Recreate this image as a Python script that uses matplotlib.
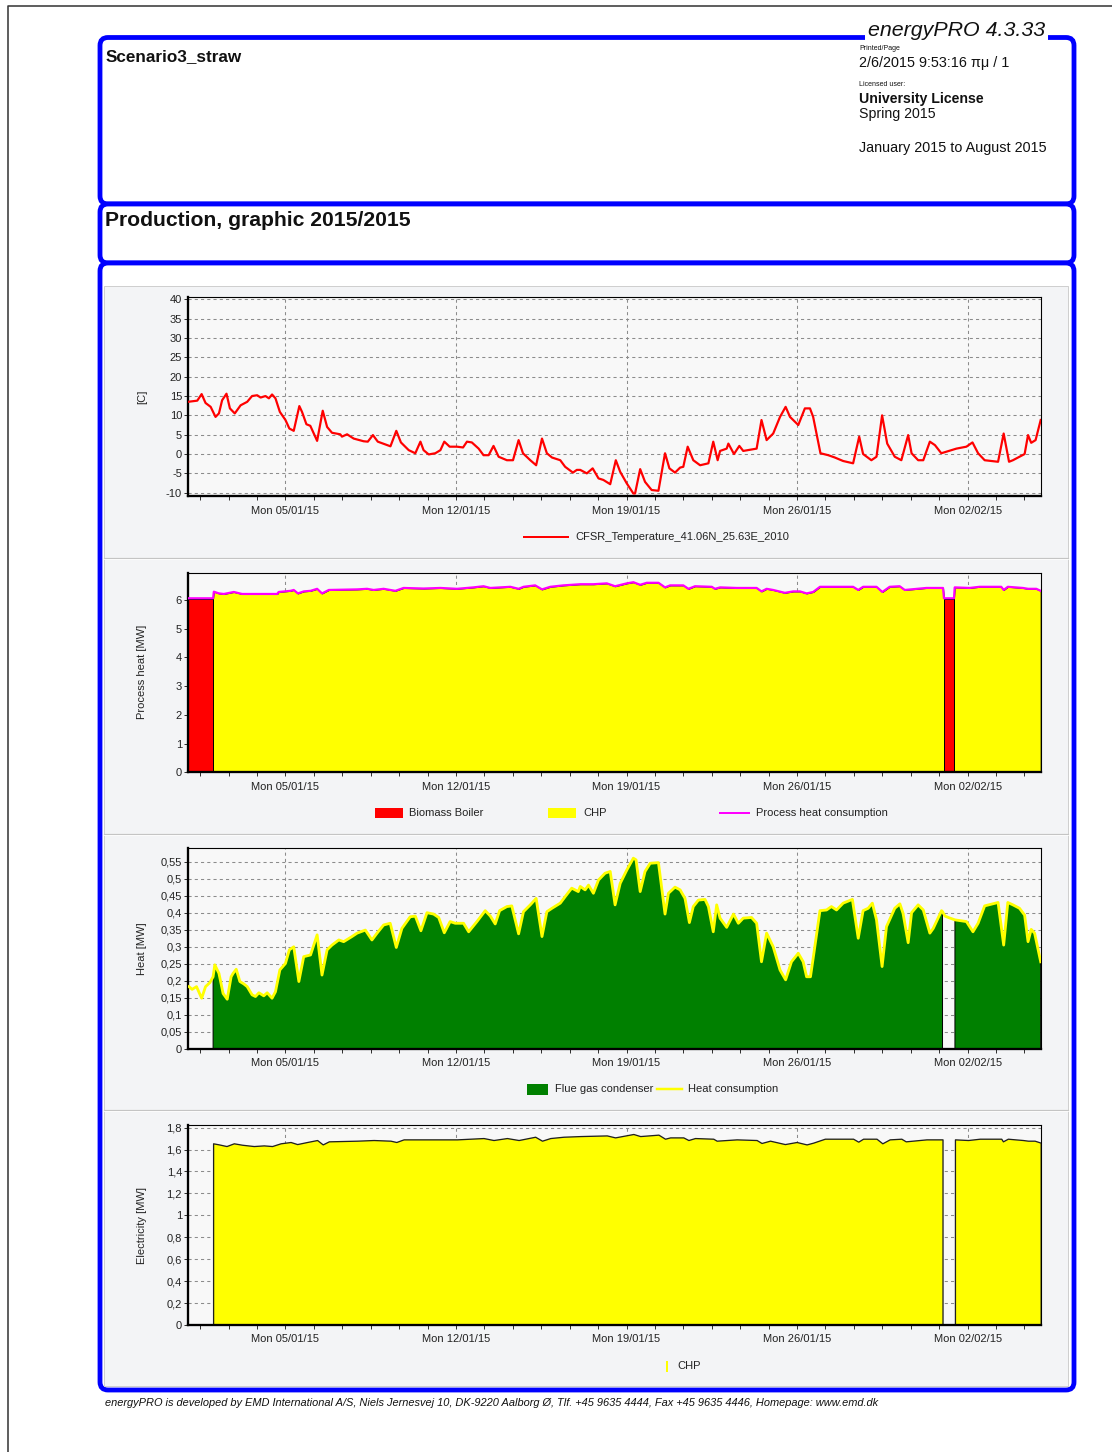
import numpy as np
import matplotlib
matplotlib.use("Agg")
import matplotlib.pyplot as plt
from matplotlib.patches import FancyBboxPatch, Rectangle
from matplotlib.ticker import FixedLocator, FuncFormatter

plt.rcParams['font.family'] = ['Liberation Sans', 'DejaVu Sans']

# ---------------- data (x = days since 2015-01-01 00:00) ----------------
week_ticks = [4, 11, 18, 25, 32]
week_labels = ["Mon 05/01/15", "Mon 12/01/15", "Mon 19/01/15", "Mon 26/01/15", "Mon 02/02/15"]

temperature_points = [
    (0.0, 13.5), (0.38, 13.8), (0.56, 15.5), (0.72, 13.2), (0.93, 12.2), (1.13, 9.6), (1.27, 10.5),
    (1.40, 13.9), (1.58, 15.6), (1.72, 11.8), (1.92, 10.5), (2.16, 12.6), (2.43, 13.5), (2.63, 15.0),
    (2.84, 15.2), (2.98, 14.6), (3.18, 15.0), (3.32, 14.4), (3.45, 15.4), (3.59, 14.4), (3.77, 10.9),
    (4.00, 8.8), (4.16, 6.6), (4.34, 6.0), (4.57, 12.4), (4.68, 10.9), (4.86, 7.7), (5.02, 7.3),
    (5.30, 3.4), (5.53, 11.2), (5.71, 7.0), (5.91, 5.5), (6.25, 5.1), (6.32, 4.5), (6.53, 5.1),
    (6.80, 4.0), (7.21, 3.3), (7.38, 3.2), (7.59, 4.9), (7.79, 3.2), (8.31, 2.0), (8.55, 6.0),
    (8.74, 3.0), (9.06, 1.0), (9.33, 0.2), (9.54, 3.2), (9.67, 1.0), (9.88, -0.1), (10.15, 0.2),
    (10.36, 1.0), (10.52, 3.2), (10.74, 1.9), (11.04, 1.9), (11.29, 1.7), (11.45, 3.2), (11.65, 3.0),
    (11.93, 1.4), (12.13, -0.3), (12.34, -0.3), (12.54, 2.1), (12.75, -0.7), (13.09, -1.6),
    (13.34, -1.6), (13.57, 3.6), (13.75, 0.2), (14.05, -1.6), (14.29, -2.9), (14.53, 4.0),
    (14.73, 0.2), (14.94, -0.9), (15.28, -1.6), (15.48, -3.3), (15.80, -4.8), (15.96, -4.1),
    (16.10, -4.1), (16.37, -5.0), (16.61, -3.7), (16.85, -6.3), (17.05, -6.7), (17.33, -7.8),
    (17.56, -1.6), (17.74, -4.6), (18.01, -7.6), (18.28, -10.2), (18.35, -10.2), (18.56, -3.9),
    (18.76, -7.2), (19.03, -9.3), (19.31, -9.5), (19.58, 0.2), (19.76, -3.7), (19.99, -4.8),
    (20.20, -3.5), (20.33, -3.3), (20.51, 1.9), (20.74, -1.6), (21.02, -2.9), (21.36, -2.4),
    (21.56, 3.2), (21.74, -1.6), (21.84, 0.8), (22.11, 1.4), (22.18, 2.7), (22.41, 0.0),
    (22.63, 2.1), (22.79, 0.8), (23.34, 1.4), (23.54, 8.8), (23.75, 3.6), (24.02, 5.3),
    (24.30, 9.6), (24.53, 12.2), (24.71, 9.6), (25.05, 7.5), (25.32, 11.8), (25.53, 11.8),
    (25.66, 9.6), (25.96, 0.2), (26.28, -0.3), (26.55, -0.9), (26.89, -1.8), (27.30, -2.4),
    (27.55, 4.5), (27.71, 0.0), (28.05, -1.6), (28.26, -0.7), (28.49, 10.0), (28.70, 2.7),
    (29.01, -0.7), (29.28, -1.6), (29.56, 4.9), (29.70, 0.2), (29.97, -1.6), (30.18, -1.6),
    (30.45, 3.2), (30.66, 2.3), (30.92, 0.2), (31.13, 0.6), (31.54, 1.4), (31.95, 1.9),
    (32.20, 3.0), (32.43, 0.2), (32.70, -1.6), (33.25, -2.0), (33.48, 5.3), (33.70, -2.0),
    (33.86, -1.6), (34.34, 0.0), (34.48, 4.9), (34.61, 2.9), (34.79, 3.6), (35.0, 8.8),
]

process_heat_points = [
    (0.0, 6.06), (1.03, 6.06), (1.06, 6.29), (1.27, 6.23), (1.47, 6.21), (1.88, 6.28), (2.22, 6.21),
    (3.66, 6.21), (3.72, 6.28), (4.21, 6.32), (4.34, 6.35), (4.51, 6.23), (4.75, 6.30), (5.03, 6.32),
    (5.30, 6.39), (5.50, 6.23), (5.78, 6.35), (6.94, 6.37), (7.35, 6.39), (7.62, 6.35), (8.03, 6.39),
    (8.51, 6.32), (8.85, 6.42), (9.67, 6.40), (10.36, 6.42), (11.04, 6.39), (11.72, 6.44),
    (12.13, 6.48), (12.41, 6.42), (13.23, 6.46), (13.57, 6.39), (13.77, 6.46), (14.25, 6.51),
    (14.53, 6.37), (14.87, 6.46), (15.41, 6.51), (16.10, 6.55), (16.64, 6.55), (17.19, 6.58),
    (17.53, 6.48), (18.01, 6.58), (18.28, 6.62), (18.56, 6.53), (18.83, 6.60), (19.31, 6.60),
    (19.58, 6.44), (19.79, 6.51), (20.33, 6.51), (20.54, 6.39), (20.81, 6.48), (21.50, 6.46),
    (21.63, 6.39), (21.84, 6.44), (22.52, 6.42), (23.34, 6.42), (23.54, 6.30), (23.75, 6.39),
    (24.02, 6.35), (24.50, 6.25), (24.84, 6.30), (25.12, 6.30), (25.39, 6.23), (25.66, 6.28),
    (25.94, 6.46), (27.30, 6.46), (27.51, 6.35), (27.71, 6.46), (28.26, 6.46), (28.50, 6.28),
    (28.80, 6.46), (29.21, 6.48), (29.42, 6.35), (30.31, 6.42), (30.99, 6.42), (31.03, 6.06),
    (31.44, 6.06), (31.47, 6.44), (32.08, 6.42), (32.49, 6.46), (33.38, 6.46), (33.48, 6.35),
    (33.65, 6.46), (34.27, 6.42), (34.48, 6.39), (34.82, 6.39), (35.0, 6.32),
]

boiler_start = [0.0, 31.03]
boiler_end = [1.03, 31.44]
boiler_mw = [6.03, 6.03]

chp_off_start = [0.0, 31.0]
chp_off_end = [1.03, 31.48]

heat_points = [
    (0.04, 0.183), (0.17, 0.175), (0.35, 0.183), (0.56, 0.149), (0.72, 0.183), (0.90, 0.195),
    (1.03, 0.212), (1.10, 0.247), (1.27, 0.222), (1.44, 0.163), (1.61, 0.146), (1.77, 0.212),
    (1.85, 0.222), (1.98, 0.234), (2.13, 0.198), (2.29, 0.191), (2.43, 0.183), (2.63, 0.159),
    (2.77, 0.154), (2.91, 0.165), (3.11, 0.156), (3.25, 0.165), (3.45, 0.149), (3.59, 0.168),
    (3.77, 0.232), (4.00, 0.251), (4.16, 0.291), (4.34, 0.300), (4.55, 0.198), (4.75, 0.271),
    (5.03, 0.276), (5.30, 0.335), (5.50, 0.217), (5.71, 0.291), (5.91, 0.305), (6.19, 0.320),
    (6.39, 0.315), (6.73, 0.330), (6.94, 0.340), (7.28, 0.349), (7.55, 0.320), (7.76, 0.340),
    (8.03, 0.364), (8.30, 0.369), (8.55, 0.298), (8.78, 0.354), (9.12, 0.388), (9.33, 0.390),
    (9.56, 0.347), (9.81, 0.400), (10.08, 0.396), (10.29, 0.386), (10.52, 0.341), (10.76, 0.374),
    (10.97, 0.369), (11.31, 0.369), (11.52, 0.344), (11.86, 0.374), (12.20, 0.406), (12.41, 0.390),
    (12.61, 0.367), (12.79, 0.406), (13.09, 0.418), (13.29, 0.420), (13.57, 0.338), (13.77, 0.403),
    (14.05, 0.423), (14.29, 0.442), (14.53, 0.330), (14.73, 0.403), (14.94, 0.413), (15.28, 0.428),
    (15.48, 0.447), (15.75, 0.472), (16.02, 0.462), (16.10, 0.477), (16.30, 0.467), (16.44, 0.481),
    (16.64, 0.457), (16.85, 0.496), (17.12, 0.516), (17.33, 0.521), (17.53, 0.423), (17.74, 0.486),
    (18.01, 0.525), (18.28, 0.560), (18.39, 0.555), (18.56, 0.462), (18.76, 0.521), (18.97, 0.545),
    (19.31, 0.547), (19.58, 0.396), (19.72, 0.457), (19.99, 0.475), (20.20, 0.467), (20.40, 0.442),
    (20.58, 0.371), (20.74, 0.418), (20.95, 0.437), (21.22, 0.439), (21.36, 0.418), (21.56, 0.344),
    (21.70, 0.423), (21.84, 0.384), (22.11, 0.357), (22.39, 0.396), (22.59, 0.369), (22.79, 0.384),
    (23.13, 0.386), (23.34, 0.369), (23.54, 0.256), (23.75, 0.340), (24.02, 0.300), (24.30, 0.232),
    (24.53, 0.203), (24.77, 0.256), (25.05, 0.281), (25.25, 0.256), (25.39, 0.212), (25.55, 0.212),
    (25.66, 0.266), (25.94, 0.406), (26.21, 0.408), (26.41, 0.418), (26.62, 0.408), (26.89, 0.428),
    (27.27, 0.439), (27.51, 0.325), (27.71, 0.406), (27.92, 0.413), (28.09, 0.428), (28.26, 0.379),
    (28.49, 0.242), (28.67, 0.359), (29.01, 0.413), (29.22, 0.426), (29.35, 0.398), (29.56, 0.312),
    (29.70, 0.400), (29.97, 0.423), (30.18, 0.408), (30.45, 0.340), (30.59, 0.354), (30.93, 0.406),
    (30.97, 0.403), (31.07, 0.390), (31.28, 0.384), (31.48, 0.379), (31.95, 0.374), (32.22, 0.344),
    (32.43, 0.369), (32.70, 0.420), (33.25, 0.430), (33.48, 0.305), (33.65, 0.430), (33.86, 0.423),
    (34.13, 0.413), (34.34, 0.393), (34.48, 0.315), (34.61, 0.351), (34.75, 0.340), (35.0, 0.256),
]

electricity_points = [
    (0.0, 0.0), (1.03, 0.0), (1.03, 1.657), (1.27, 1.647), (1.58, 1.632), (1.88, 1.657),
    (2.22, 1.644), (2.70, 1.632), (3.11, 1.638), (3.45, 1.632), (3.80, 1.657), (4.21, 1.669),
    (4.48, 1.650), (4.89, 1.669), (5.30, 1.687), (5.53, 1.647), (5.78, 1.675), (6.94, 1.681),
    (7.62, 1.687), (8.31, 1.681), (8.55, 1.669), (8.85, 1.693), (9.67, 1.693), (11.04, 1.693),
    (12.13, 1.705), (12.54, 1.687), (13.09, 1.705), (13.57, 1.687), (14.25, 1.717), (14.53, 1.681),
    (14.87, 1.705), (15.41, 1.717), (16.10, 1.723), (17.19, 1.729), (17.53, 1.711), (18.28, 1.742),
    (18.56, 1.723), (19.31, 1.736), (19.58, 1.699), (19.79, 1.711), (20.33, 1.711), (20.54, 1.687),
    (20.81, 1.705), (21.56, 1.699), (21.70, 1.681), (22.52, 1.693), (23.34, 1.687), (23.54, 1.660),
    (23.89, 1.681), (24.50, 1.650), (24.98, 1.669), (25.39, 1.647), (25.66, 1.663), (26.14, 1.699),
    (27.30, 1.699), (27.51, 1.672), (27.71, 1.699), (28.26, 1.699), (28.50, 1.657), (28.80, 1.693),
    (29.28, 1.699), (29.46, 1.675), (30.31, 1.693), (30.97, 1.693), (30.97, 0.0), (31.48, 0.0),
    (31.48, 1.693), (32.02, 1.687), (32.50, 1.699), (33.38, 1.699), (33.45, 1.675), (33.65, 1.699),
    (34.27, 1.687), (34.48, 1.681), (34.75, 1.681), (35.0, 1.663),
]

temp_day, temp_c = np.array(temperature_points).T
proc_day, proc_mw = np.array(process_heat_points).T
heat_day, heat_mw = np.array(heat_points).T
el_day, el_mw = np.array(electricity_points).T

# ---------------- figure ----------------
W, H = 1112, 1452
fig = plt.figure(figsize=(W / 100, H / 100), dpi=100, facecolor="white")


def PX(px):
    return px * 0.72


ov = fig.add_axes([0, 0, 1, 1])
ov.set_xlim(0, W)
ov.set_ylim(H, 0)
ov.axis("off")
ov.set_zorder(0)

BLUE = "#0000ff"
# page border
ov.plot([8, 8, W], [H, 6, 6], color="#3a3a3a", lw=PX(1.6), solid_capstyle="butt")

# blue report frame (three rounded sections)
for (y0, y1) in [(37.5, 204), (204, 263), (263, 1390)]:
    ov.add_patch(FancyBboxPatch((100, y0), 974, y1 - y0,
                                boxstyle="round,pad=0,rounding_size=8",
                                fc="white", ec=BLUE, lw=PX(4.8), zorder=1))

# grey chart panel
ov.add_patch(Rectangle((104, 286), 964, 1100, fc="#f3f4f6", ec="#cfcfcf", lw=PX(1), zorder=1.5))
for ys in [558, 834, 1110]:
    ov.plot([104, 1068], [ys, ys], color="#c4c4c4", lw=PX(1.2), zorder=1.6)
    ov.plot([104, 1068], [ys + 1.3, ys + 1.3], color="white", lw=PX(0.8), zorder=1.6)

# header texts
TXT = "#111111"
ov.text(106, 57, "Scenario3_straw", fontsize=12.3, fontweight="bold", va="center", color=TXT)
ov.text(105, 221, "Production, graphic 2015/2015", fontsize=15.2, fontweight="bold", va="center", color=TXT)
ov.text(868, 36, "energyPRO 4.3.33", fontsize=15.4, style="italic", va="baseline", color=TXT,
        bbox=dict(fc="white", ec="none", pad=2.2), zorder=5)
ov.text(859, 49, "Printed/Page", fontsize=5, va="center", color=TXT)
ov.text(859, 63.5, "2/6/2015 9:53:16 πμ / 1", fontsize=10.4, va="center", color=TXT)
ov.text(859, 84, "Licensed user:", fontsize=5, va="center", color=TXT)
ov.text(859, 99, "University License", fontsize=10.2, fontweight="bold", va="center", color=TXT)
ov.text(859, 114, "Spring 2015", fontsize=10.2, va="center", color=TXT)
ov.text(859, 148, "January 2015 to August 2015", fontsize=10.4, va="center", color=TXT)

footer = ("energyPRO is developed by EMD International A/S, Niels Jernesvej 10, DK-9220 Aalborg Ø, "
          "Tlf. +45 9635 4444, Fax +45 9635 4446, Homepage: www.emd.dk")
ft = ov.text(105, 1403, footer, fontsize=7.5, style="italic", va="center", color=TXT)
renderer = fig.canvas.get_renderer()
wpx = ft.get_window_extent(renderer).width
ft.set_fontsize(7.5 * 768.0 / wpx)

# ---------------- chart axes ----------------
X0, X1 = 188.0, 1040.7
minor_ticks = np.arange(4 - 3 * 7 / 6, 35, 7 / 6)


def make_axes(top, bottom):
    return fig.add_axes([X0 / W, 1 - bottom / H, (X1 - X0) / W, (bottom - top) / H])


def comma_fmt(v, pos):
    return ("%g" % round(v, 2)).replace(".", ",")


def style(ax, ylim, yticks):
    ax.set_zorder(2)
    ax.set_facecolor("#f8f8f8")
    ax.set_xlim(0, 35)
    ax.set_ylim(*ylim)
    ax.set_axisbelow(True)
    ax.xaxis.set_major_locator(FixedLocator(week_ticks))
    ax.set_xticklabels(week_labels)
    ax.xaxis.set_minor_locator(FixedLocator(minor_ticks))
    ax.set_yticks(yticks)
    ax.yaxis.set_major_formatter(FuncFormatter(comma_fmt))
    ax.grid(True, which="major", color="#8c8c8c", lw=0.75, ls=(0, (3, 3)))
    for s in ["left", "bottom"]:
        ax.spines[s].set_linewidth(PX(2.3))
    for s in ["top", "right"]:
        ax.spines[s].set_linewidth(PX(1.1))
    ax.tick_params(axis="x", which="both", length=PX(4), width=PX(1), pad=PX(5.5),
                   labelsize=8, labelcolor="#222222", color="#333333")
    ax.tick_params(axis="y", which="both", length=PX(4), width=PX(1), pad=PX(2),
                   labelsize=8, labelcolor="#222222", color="#333333")


def chp_running(days):
    d = np.asarray(days)
    off = np.zeros(d.shape, bool)
    for s, e in zip(chp_off_start, chp_off_end):
        off |= (d >= s) & (d < e)
    return ~off


# chart 1: temperature
ax1 = make_axes(297, 496)
style(ax1, (-10.85, 40.6), np.arange(-10, 41, 5))
ax1.plot(temp_day, temp_c, color="#ff0000", lw=PX(2.2), zorder=3)

# chart 2: process heat
ax2 = make_axes(573.3, 772.3)
style(ax2, (0, 6.93), np.arange(0, 7, 1))
ax2.fill_between(proc_day, 0, proc_mw, facecolor="#ffff00", edgecolor="#000000", lw=PX(1), zorder=2)
ax2.bar(boiler_start, boiler_mw, width=np.array(boiler_end) - np.array(boiler_start), align="edge",
        color="#ff0000", edgecolor="#000000", lw=PX(1), zorder=2.5)
ax2.plot(proc_day, proc_mw, color="#ff00ff", lw=PX(2.2), zorder=3)

# chart 3: heat
ax3 = make_axes(848.3, 1049)
style(ax3, (0, 0.589), np.round(np.arange(0, 0.56, 0.05), 2))
ax3.fill_between(heat_day, 0, heat_mw, where=chp_running(heat_day), facecolor="#008000",
                 edgecolor="#000000", lw=PX(1), zorder=2)
ax3.plot(heat_day, heat_mw, color="#ffff00", lw=PX(2.8), zorder=3)

# chart 4: electricity
ax4 = make_axes(1125, 1325)
style(ax4, (0, 1.824), np.round(np.arange(0, 1.81, 0.2), 1))
ax4.fill_between(el_day, 0, el_mw, facecolor="#ffff00", edgecolor="#202020", lw=PX(1.3), zorder=2)

# y labels
ylab = dict(rotation=90, ha="center", va="center", fontsize=8, color="#222222")
ov.text(142, 396.5, "[C]", **ylab)
ov.text(142, 672, "Process heat [MW]", **ylab)
ov.text(142, 948.5, "Heat [MW]", **ylab)
ov.text(142, 1225, "Electricity [MW]", **ylab)

# legends
leg = dict(fontsize=8, va="center", color="#222222", zorder=4)
ov.plot([524, 568], [537, 537], color="#ff0000", lw=PX(2), zorder=4)
ov.text(575, 537.5, "CFSR_Temperature_41.06N_25.63E_2010", **leg)

ov.add_patch(Rectangle((375, 808), 28, 9.5, fc="#ff0000", ec="none", zorder=4))
ov.text(409, 813, "Biomass Boiler", **leg)
ov.add_patch(Rectangle((548, 808), 28, 9.5, fc="#ffff00", ec="none", zorder=4))
ov.text(583, 813, "CHP", **leg)
ov.plot([720, 749], [812.5, 812.5], color="#ff00ff", lw=PX(2), zorder=4)
ov.text(756, 813, "Process heat consumption", **leg)

ov.add_patch(Rectangle((527, 1084), 21, 10.5, fc="#008000", ec="none", zorder=4))
ov.text(555, 1089.5, "Flue gas condenser", **leg)
ov.plot([657, 682], [1089, 1089], color="#ffff00", lw=PX(2.5), zorder=4)
ov.text(688, 1089.5, "Heat consumption", **leg)

ov.add_patch(Rectangle((665.5, 1361), 2.5, 11, fc="#ffff00", ec="none", zorder=4))
ov.text(677, 1366, "CHP", **leg)

fig.savefig("out.png", dpi=100, facecolor="white")
